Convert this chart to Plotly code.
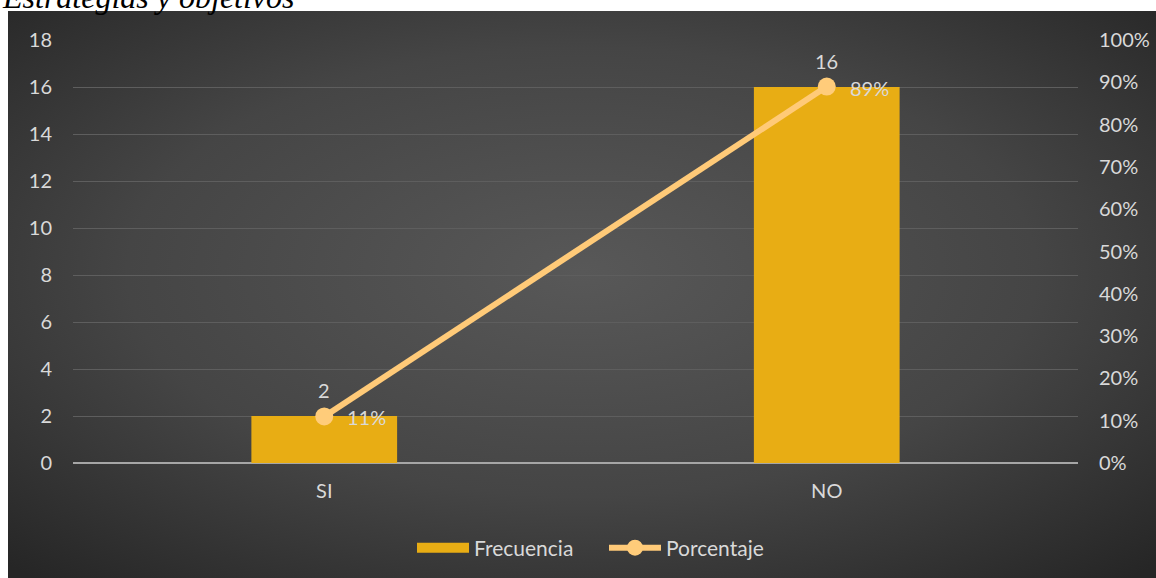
import base64
import plotly.graph_objects as go

# Survey answers
categorias = ["SI", "NO"]
frecuencia = [2, 16]
porcentaje = [0.11, 0.89]

titulo = "Estrategias y objetivos"
eje_izq = [0, 2, 4, 6, 8, 10, 12, 14, 16, 18]
eje_der = [0, 0.1, 0.2, 0.3, 0.4, 0.5, 0.6, 0.7, 0.8, 0.9, 1.0]

W, H = 1156, 578
ML, MR, MT, MB = 73, 78, 40, 115
PW, PH = W - ML - MR, H - MT - MB

def px_to_paper_x(px):
    return (px - ML) / PW

def px_to_paper_y(py):
    return (H - MB - py) / PH

TXT = "#D9D9D9"
FONT = "Lato"
GOLD = "#E8AD14"

# dark radial backdrop for the chart frame
svg = (
    '<svg xmlns="http://www.w3.org/2000/svg" width="1148" height="567">'
    '<defs><radialGradient id="g" cx="50%" cy="46%" r="72%">'
    '<stop offset="0%" stop-color="#585858"/>'
    '<stop offset="55%" stop-color="#454545"/>'
    '<stop offset="100%" stop-color="#262626"/>'
    '</radialGradient></defs>'
    '<rect width="1148" height="567" fill="url(#g)"/></svg>'
)
bg_uri = "data:image/svg+xml;base64," + base64.b64encode(svg.encode()).decode()

fig = go.Figure()

fig.add_trace(go.Bar(
    x=categorias, y=frecuencia, name="Frecuencia",
    marker=dict(color=GOLD, line=dict(width=0)),
    width=0.29, yaxis="y", showlegend=False,
))

# legend key for the bars: a wide flat swatch
fig.add_trace(go.Scatter(
    x=[None], y=[None], name="Frecuencia", mode="lines",
    line=dict(color=GOLD, width=13), hoverinfo="skip",
))

fig.add_trace(go.Scatter(
    x=categorias, y=porcentaje, name="Porcentaje",
    mode="lines+markers", yaxis="y2",
    line=dict(color="#FFCA78", width=6),
    marker=dict(size=18, color="#FFCC7A", line=dict(width=0)),
))

annotations = []
for c, f in zip(categorias, frecuencia):
    annotations.append(dict(
        x=c, y=f, xref="x", yref="y", text=str(f), showarrow=False,
        yshift=26, font=dict(family=FONT, size=20, color=TXT),
    ))
for c, p in zip(categorias, porcentaje):
    annotations.append(dict(
        x=c, y=p, xref="x", yref="y2", text=f"{round(p * 100)}%", showarrow=False,
        xanchor="left", xshift=21, yshift=-1,
        font=dict(family=FONT, size=20, color=TXT),
    ))
annotations.append(dict(
    x=px_to_paper_x(0), y=px_to_paper_y(17), xref="paper", yref="paper",
    xanchor="left", yanchor="bottom", text=f"<i>{titulo}</i>", showarrow=False,
    font=dict(family="Liberation Serif", size=32, color="#000000"),
))

fig.update_layout(
    width=W, height=H,
    margin=dict(l=ML, r=MR, t=MT, b=MB, autoexpand=False),
    paper_bgcolor="#FFFFFF",
    plot_bgcolor="rgba(0,0,0,0)",
    bargap=0.71,
    showlegend=True,
    legend=dict(
        orientation="h", x=px_to_paper_x(412), xanchor="left",
        y=px_to_paper_y(548), yanchor="middle",
        font=dict(family=FONT, size=21, color=TXT),
        bgcolor="rgba(0,0,0,0)", itemwidth=52,
        entrywidth=125, entrywidthmode="pixels",
    ),
    images=[dict(
        source=bg_uri, xref="paper", yref="paper",
        x=px_to_paper_x(8), y=px_to_paper_y(11),
        sizex=1148 / PW, sizey=567 / PH,
        xanchor="left", yanchor="top", sizing="stretch", layer="below",
    )],
    xaxis=dict(
        showgrid=False, showline=False, zeroline=False, ticks="",
        tickfont=dict(family=FONT, size=20, color=TXT),
        ticklabelstandoff=14, automargin=False,
    ),
    yaxis=dict(
        range=[0, 18], tickvals=eje_izq,
        showgrid=True, gridcolor="#5E5E5E", gridwidth=1,
        zeroline=True, zerolinecolor="#A6A6A6", zerolinewidth=2,
        showline=False, ticks="",
        tickfont=dict(family=FONT, size=20, color=TXT),
        ticklabelstandoff=20, automargin=False,
    ),
    yaxis2=dict(
        range=[0, 1], tickvals=eje_der, tickformat=".0%",
        overlaying="y", side="right",
        showgrid=False, zeroline=False, showline=False, ticks="",
        tickfont=dict(family=FONT, size=20, color=TXT),
        ticklabelstandoff=20, automargin=False,
    ),
    annotations=annotations,
)

fig.write_html("out.html")
